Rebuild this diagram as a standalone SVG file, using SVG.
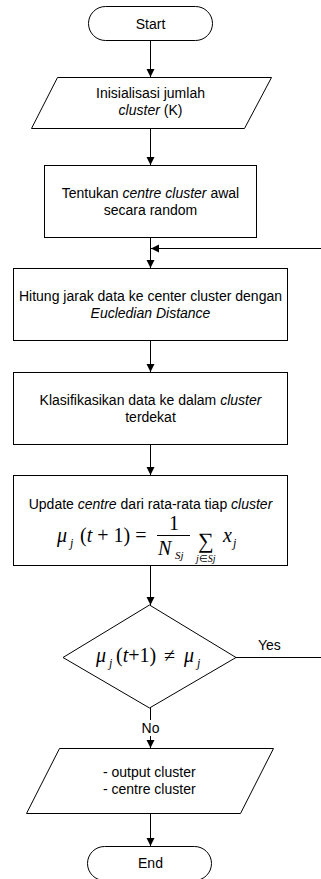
<svg xmlns="http://www.w3.org/2000/svg" width="321" height="879" viewBox="0 0 321 879">
  <defs>
    <marker id="arrow" viewBox="0 0 10 10" refX="10" refY="5" markerWidth="8" markerHeight="9" markerUnits="userSpaceOnUse" orient="auto">
      <path d="M0,0 L10,5 L0,10 z" fill="#000"/>
    </marker>
  </defs>
  <style>
    .shape { fill: #fff; stroke: #000; stroke-width: 1; }
    .conn { fill: none; stroke: #000; stroke-width: 1; }
    .t { font-family: "Liberation Sans", Arial, sans-serif; font-size: 14px; fill: #000; }
    .c { text-anchor: middle; }
    .i { font-style: italic; }
    .m { font-family: "Liberation Serif", "Times New Roman", serif; font-style: italic; fill: #000; }
    .n { font-family: "Liberation Serif", "Times New Roman", serif; font-style: normal; fill: #000; }
  </style>

  <!-- connectors -->
  <g id="connectors">
    <line class="conn" x1="150.5" y1="41" x2="150.5" y2="77" marker-end="url(#arrow)"/>
    <line class="conn" x1="150.5" y1="128" x2="150.5" y2="165" marker-end="url(#arrow)"/>
    <line class="conn" x1="150.5" y1="238" x2="150.5" y2="268" marker-end="url(#arrow)"/>
    <line class="conn" x1="321" y1="248.5" x2="151" y2="248.5" marker-end="url(#arrow)"/>
    <line class="conn" x1="150.5" y1="341" x2="150.5" y2="372" marker-end="url(#arrow)"/>
    <line class="conn" x1="150.5" y1="445" x2="150.5" y2="475" marker-end="url(#arrow)"/>
    <line class="conn" x1="150.5" y1="566" x2="150.5" y2="605" marker-end="url(#arrow)"/>
    <line class="conn" x1="236" y1="657.5" x2="321" y2="657.5"/>
    <text class="t" x="258" y="650">Yes</text>
    <line class="conn" x1="150.5" y1="708" x2="150.5" y2="748" marker-end="url(#arrow)"/>
    <rect x="140" y="720" width="21" height="16" fill="#fff"/>
    <text class="t c" x="150.5" y="733">No</text>
    <line class="conn" x1="150.5" y1="814" x2="150.5" y2="846" marker-end="url(#arrow)"/>
  </g>

  <g id="start">
    <rect class="shape" x="88.5" y="6.5" width="124" height="34" rx="17" ry="17"/>
    <text class="t c" x="150.5" y="29">Start</text>
  </g>

  <g id="input-k">
    <polygon class="shape" points="57.5,77.5 271.5,77.5 244.5,128.5 31.5,128.5"/>
    <text class="t c" x="150.5" y="98">Inisialisasi jumlah</text>
    <text class="t c" x="150.5" y="115"><tspan class="i">cluster</tspan> (K)</text>
  </g>

  <g id="init-centre">
    <rect class="shape" x="44.5" y="165.5" width="212" height="72"/>
    <text class="t c" x="150.5" y="198">Tentukan <tspan class="i">centre cluster</tspan> awal</text>
    <text class="t c" x="150.5" y="215">secara random</text>
  </g>

  <g id="distance">
    <rect class="shape" x="13.5" y="268.5" width="274" height="72"/>
    <text class="t c" x="150.5" y="301">Hitung jarak data ke center cluster dengan</text>
    <text class="t c i" x="150.5" y="318">Eucledian Distance</text>
  </g>

  <g id="classify">
    <rect class="shape" x="13.5" y="372.5" width="274" height="72"/>
    <text class="t c" x="150.5" y="405">Klasifikasikan data ke dalam <tspan class="i">cluster</tspan></text>
    <text class="t c" x="150.5" y="422">terdekat</text>
  </g>

  <g id="update">
    <rect class="shape" x="13.5" y="475.5" width="274" height="90"/>
    <text class="t c" x="150.5" y="509">Update <tspan class="i">centre</tspan> dari rata-rata tiap <tspan class="i">cluster</tspan></text>
    <!-- mu_j(t+1) = 1/N_Sj * sum_{j in Sj} x_j -->
    <text class="m" x="57" y="542" font-size="20">μ</text>
    <text class="m" x="70" y="547" font-size="12">j</text>
    <text class="n" x="80" y="542" font-size="20">(<tspan class="m">t</tspan> + 1) =</text>
    <text class="n" x="174" y="530" font-size="20" text-anchor="middle">1</text>
    <line x1="157" y1="535.5" x2="190" y2="535.5" stroke="#000" stroke-width="1"/>
    <text class="m" x="158" y="555" font-size="20">N</text>
    <text class="m" x="175" y="559" font-size="11">Sj</text>
    <text class="n" x="198" y="548" font-size="22">∑</text>
    <text class="m" x="196" y="562" font-size="10">j<tspan class="n">∈</tspan>Sj</text>
    <text class="m" x="223" y="542" font-size="20">x</text>
    <text class="m" x="233" y="547" font-size="12">j</text>
  </g>

  <g id="decision">
    <polygon class="shape" points="149.5,605 236,657.5 149.5,708 63,657.5"/>
    <text class="m" x="96" y="662" font-size="20">μ</text>
    <text class="m" x="109" y="667" font-size="12">j</text>
    <text class="n" x="116" y="662" font-size="20">(<tspan class="m">t</tspan>+1)</text>
    <text class="n" x="164" y="662" font-size="20">≠</text>
    <text class="m" x="184" y="662" font-size="20">μ</text>
    <text class="m" x="197" y="667" font-size="12">j</text>
  </g>

  <g id="output">
    <polygon class="shape" points="59.5,748.5 273.5,748.5 240.5,813.5 26.5,813.5"/>
    <text class="t" x="103" y="777">- output cluster</text>
    <text class="t" x="103" y="794">- centre cluster</text>
  </g>

  <g id="end">
    <rect class="shape" x="87.5" y="846.5" width="124" height="34" rx="17" ry="17"/>
    <text class="t c" x="150.5" y="868">End</text>
  </g>
</svg>
